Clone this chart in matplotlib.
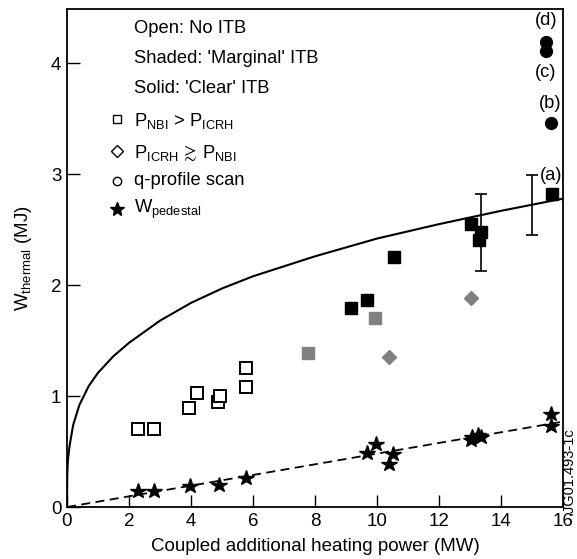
import matplotlib
matplotlib.use("Agg")
from matplotlib import pyplot as plt

plt.rcParams['font.family'] = ['Liberation Sans', 'DejaVu Sans']
plt.rcParams['mathtext.fontset'] = 'custom'
plt.rcParams['mathtext.rm'] = 'Liberation Sans'
plt.rcParams['mathtext.it'] = 'Liberation Sans'
plt.rcParams['mathtext.fallback'] = 'stixsans'

# open squares: no ITB, P_NBI > P_ICRH
open_sq_p = [2.28, 2.8, 3.95, 4.21, 4.88, 4.94, 5.76, 5.76]
open_sq_w = [0.70, 0.70, 0.89, 1.03, 0.95, 1.00, 1.25, 1.08]

# shaded: marginal ITB
grey_sq_p = [7.77, 9.95]
grey_sq_w = [1.39, 1.70]
grey_dm_p = [10.38, 13.03]
grey_dm_w = [1.35, 1.88]

# solid: clear ITB
solid_sq_p = [9.15, 9.68, 10.55, 13.03, 13.34, 13.3, 15.63]
solid_sq_w = [1.79, 1.87, 2.25, 2.55, 2.48, 2.41, 2.82]
solid_ci_p = [15.6, 15.45, 15.45]
solid_ci_w = [3.46, 4.11, 4.19]

# labels (a)-(d)
lab_text = ['(a)', '(b)', '(c)', '(d)']
lab_p = [15.62, 15.6, 15.45, 15.45]
lab_w = [2.99, 3.64, 3.92, 4.39]

# pedestal energy
star_p = [2.28, 2.8, 3.97, 4.89, 5.76, 9.67, 9.96, 10.39, 10.53,
          13.02, 13.05, 13.27, 13.35, 15.61, 15.61]
star_w = [0.14, 0.14, 0.19, 0.20, 0.26, 0.49, 0.57, 0.39, 0.48,
          0.60, 0.63, 0.65, 0.63, 0.84, 0.73]

# scaling curve
curve_p = [0, 0.01, 0.03, 0.06, 0.1, 0.2, 0.4, 0.7, 1, 1.5, 2, 3, 4,
           5, 6, 8, 10, 12, 14, 16]
curve_w = [0, 0.30, 0.42, 0.50, 0.58, 0.74, 0.92, 1.09, 1.21, 1.36,
           1.48, 1.68, 1.84, 1.97, 2.08, 2.26, 2.42, 2.55, 2.67, 2.78]

ped_line_p = [0, 16]
ped_line_w = [0, 0.77]

err_p = [13.34, 15.0]
err_lo = [2.13, 2.45]
err_hi = [2.82, 2.99]

grey = '#808080'
fs = 13.2

fig = plt.figure(figsize=(5.77, 5.59), dpi=100)
ax = fig.add_axes([0.1161, 0.093, 0.8596, 0.891])

ax.plot(curve_p, curve_w, color='black', lw=1.5)
ax.plot(ped_line_p, ped_line_w, color='black', lw=1.3, ls=(0, (5, 3)))

for p, lo, hi in zip(err_p, err_lo, err_hi):
    mid = (lo + hi) / 2
    ax.errorbar([p], [mid], yerr=[[mid - lo], [hi - mid]], fmt='none',
                ecolor='black', elinewidth=1.2, capsize=4, capthick=1.2)

ax.plot(open_sq_p, open_sq_w, 's', ms=8.5, mfc='white', mec='black', mew=1.4)
ax.plot(grey_sq_p, grey_sq_w, 's', ms=8.5, mfc=grey, mec=grey)
ax.plot(grey_dm_p, grey_dm_w, 'D', ms=7, mfc=grey, mec=grey)
ax.plot(solid_sq_p, solid_sq_w, 's', ms=8.5, mfc='black', mec='black')
ax.plot(solid_ci_p, solid_ci_w, 'o', ms=8.5, mfc='black', mec='black')
ax.plot(star_p, star_w, '*', ms=11.5, mfc='black', mec='black')

for p, w, lab in zip(lab_p, lab_w, lab_text):
    ax.text(p, w, lab, fontsize=fs, ha='center', va='center')

# key
tx = 2.17
mx = 1.6
ax.text(tx, 4.31, 'Open: No ITB', fontsize=fs, va='center')
ax.text(tx, 4.04, "Shaded: 'Marginal' ITB", fontsize=fs, va='center')
ax.text(tx, 3.77, "Solid: 'Clear' ITB", fontsize=fs, va='center')
ax.plot([mx], [3.50], 's', ms=6, mfc='white', mec='black', mew=1)
ax.text(tx, 3.48, r'P$_{\mathrm{NBI}}$ > P$_{\mathrm{ICRH}}$', fontsize=fs, va='center')
ax.plot([mx], [3.21], 'D', ms=6, mfc='white', mec='black', mew=1)
ax.text(tx, 3.19, r'P$_{\mathrm{ICRH}}\,\gtrsim\,$P$_{\mathrm{NBI}}$', fontsize=fs, va='center')
ax.plot([mx], [2.94], 'o', ms=6, mfc='white', mec='black', mew=1)
ax.text(tx, 2.94, 'q-profile scan', fontsize=fs, va='center')
ax.plot([mx], [2.69], '*', ms=10, mfc='black', mec='black')
ax.text(tx, 2.68, r'W$_{\mathrm{pedestal}}$', fontsize=fs, va='center')

ax.set_xlim(0, 16)
ax.set_ylim(0, 4.49)
ax.set_xticks([0, 2, 4, 6, 8, 10, 12, 14, 16])
ax.set_yticks([0, 1, 2, 3, 4])
ax.tick_params(direction='in', length=9, width=1, labelsize=13.5, pad=4)
for s in ax.spines.values():
    s.set_linewidth(1.3)

ax.set_xlabel('Coupled additional heating power (MW)', fontsize=13.5, labelpad=6)
ax.set_ylabel(r'W$_{\mathrm{thermal}}$ (MJ)', fontsize=13.5, labelpad=12)

fig.text(0.985, 0.078, '.JG01.493-1c', rotation=90, fontsize=10.5,
         ha='center', va='bottom')

fig.savefig('out.png', dpi=100)
